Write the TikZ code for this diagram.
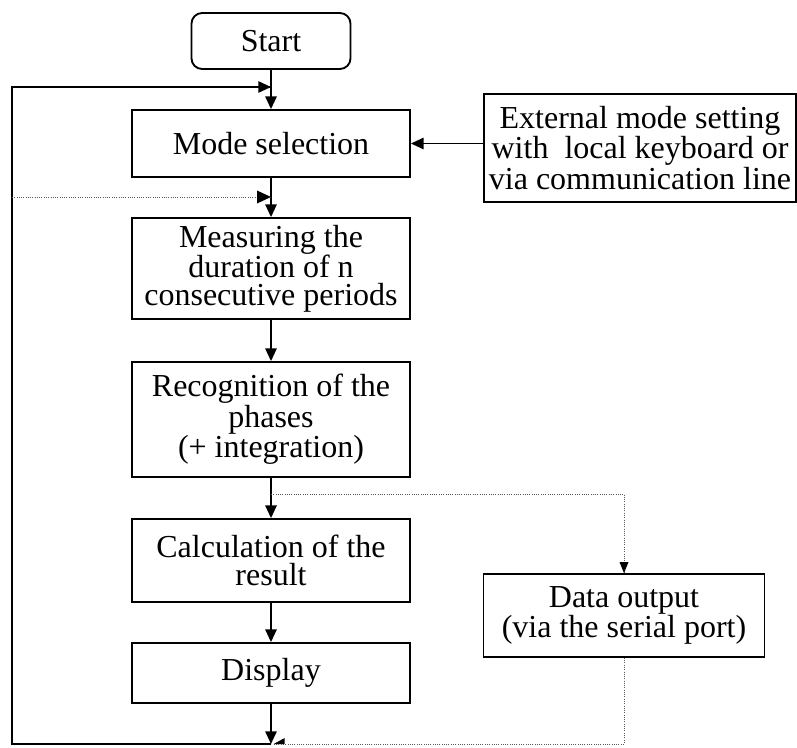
\documentclass[tikz,border=0pt]{standalone}
\usepackage{fontspec}
\setmainfont{Liberation Serif}
\usetikzlibrary{arrows.meta}

\begin{document}
\begin{tikzpicture}[x=0.75pt,y=-0.75pt,
  every node/.style={font=\fontsize{24}{20.5}\selectfont, align=center, inner sep=0pt},
  box/.style={draw, line width=1.4pt, rectangle},
  startbox/.style={draw, line width=1.4pt, rounded corners=8pt},
  tip/.style={-{Triangle[length=9.5pt,width=8.5pt]}},
  flow/.style={line width=1.3pt, tip},
  loopline/.style={line width=2.2pt},
  dataline/.style={line width=0.7pt, densely dotted, black!65}
]
\useasboundingbox (0,0) rectangle (797,747);

% main column
\node[startbox, minimum width=119.25pt, minimum height=42pt] (start) at (271,41) {Start};
\node[box, minimum width=208.5pt, minimum height=50.25pt] (mode) at (271,143.5) {Mode selection};
\node[box, minimum width=208.5pt, minimum height=75.75pt] (meas) at (271,268.5)
  {Measuring the\\duration of n\\consecutive periods};
\node[box, minimum width=208.5pt, minimum height=86.25pt] (recog) at (271,419.5)
  {Recognition of the\\phases\\(+ integration)};
\node[box, minimum width=208.5pt, minimum height=62.25pt] (calc) at (271,560.5)
  {Calculation of the\\result};
\node[box, minimum width=208.5pt, minimum height=45pt] (disp) at (271,673) {Display};

% side boxes
\node[box, minimum width=234pt, minimum height=81pt] (ext) at (640,148)
  {External mode setting\\with~ local keyboard or\\via communication line};
\node[box, minimum width=210.75pt, minimum height=62.25pt] (data) at (624,615.5)
  {Data output\\(via the serial port)};

% junction points of the loop
\coordinate (topj) at (271,87);
\coordinate (topl) at (12,87);
\coordinate (midj) at (271,197);
\coordinate (midl) at (12,197);
\coordinate (botj) at (271,744);
\coordinate (botl) at (12,744);
\coordinate (outj) at (271,494);
\coordinate (outr) at (624,494);
\coordinate (datab) at (624,744);

% forward flow
\draw[flow] (start) -- (mode);
\draw[flow] (mode) -- (meas);
\draw[flow] (meas) -- (recog);
\draw[flow] (recog) -- (calc);
\draw[flow] (calc) -- (disp);
\draw[flow] (disp) -- (botj);
\draw[flow] (ext.west |- mode.east) -- (mode.east);

% return loop
\draw[loopline] (botj) -- (botl) -- (topl) -- (topj);
\draw[line width=1.3pt, tip] ([xshift=-16]topj) -- (topj);

% dotted paths
\draw[dataline] (midl) -- (midj);
\fill[black] (midj) -- ++(-14,-6.5) -- ++(0,13) -- cycle;
\draw[dataline] (outj) -- (outr) -- (data.north);
\fill[black] (data.north) -- ++(-4.5,-11) -- ++(9,0) -- cycle;
\draw[dataline] (data.south) -- (datab) -- ([xshift=2]botj);
\fill[black] ([xshift=2]botj) -- ++(11,-6) -- ++(0,6) -- cycle;
\end{tikzpicture}
\end{document}
